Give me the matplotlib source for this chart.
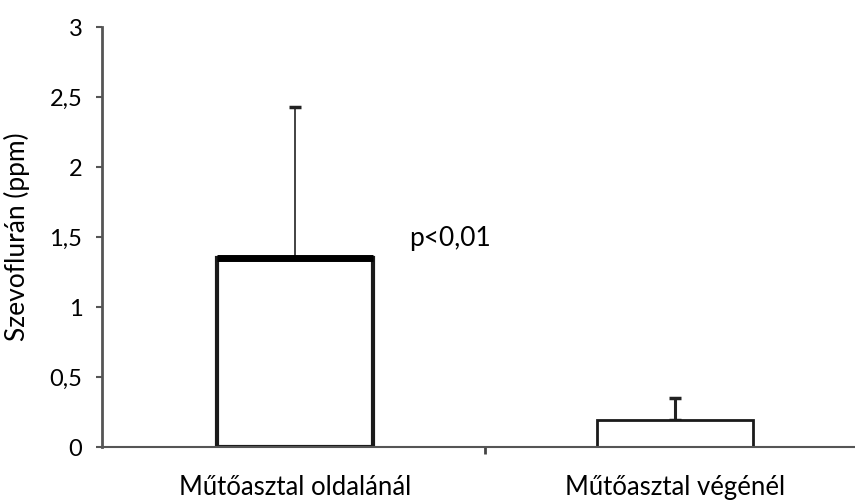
import numpy as np
import matplotlib.pyplot as plt

locations = ["Műtőasztal oldalánál", "Műtőasztal végénél"]
means = [1.35, 0.19]
upper_sd = [1.08, 0.16]
y_ticks = [0, 0.5, 1, 1.5, 2, 2.5, 3]
y_tick_labels = ["0", "0,5", "1", "1,5", "2", "2,5", "3"]

plt.rcParams['font.family'] = ['Lato', 'DejaVu Sans']

fig = plt.figure(figsize=(8.55, 5), dpi=100)
ax = fig.add_axes([0.119, 0.106, 0.881, 0.84])

x = np.arange(len(locations))
edge_widths = [3, 2]
err_widths = [1.2, 2.2]
for i in range(len(locations)):
    ax.bar(x[i], means[i], width=0.41, color="white", edgecolor="#1a1a1a",
           linewidth=edge_widths[i], zorder=2)
    ax.errorbar(x[i], means[i], yerr=[[0], [upper_sd[i]]], fmt="none",
                ecolor="#222222", elinewidth=err_widths[i], capsize=4,
                capthick=2.5, zorder=1)

# heavy top edge on the first bar
ax.hlines(means[0], x[0] - 0.205, x[0] + 0.205, color="black", linewidth=5, zorder=3)

ax.text(0.3, 1.49, "p<0,01", fontsize=19, ha="left", va="center")

ax.set_xlim(-0.508, 1.474)
ax.set_ylim(0, 3)
ax.set_yticks(y_ticks)
ax.set_yticklabels(y_tick_labels)
ax.set_xticks(x)
ax.set_xticklabels(locations)
ax.tick_params(axis="x", length=0, pad=20, labelsize=18.5)
ax.set_xticks([0.5], minor=True)
ax.tick_params(axis="x", which="minor", length=5, width=2, color="#444444")
ax.tick_params(axis="y", length=4, width=1.5, color="#555555", pad=10, labelsize=17)
ax.set_ylabel("Szevoflurán (ppm)", fontsize=19, labelpad=14)

for side in ["top", "right"]:
    ax.spines[side].set_visible(False)
ax.spines["left"].set_linewidth(2)
ax.spines["left"].set_color("#555555")
ax.spines["bottom"].set_linewidth(1.5)
ax.spines["bottom"].set_color("#555555")

fig.savefig("out.png", dpi=100)
